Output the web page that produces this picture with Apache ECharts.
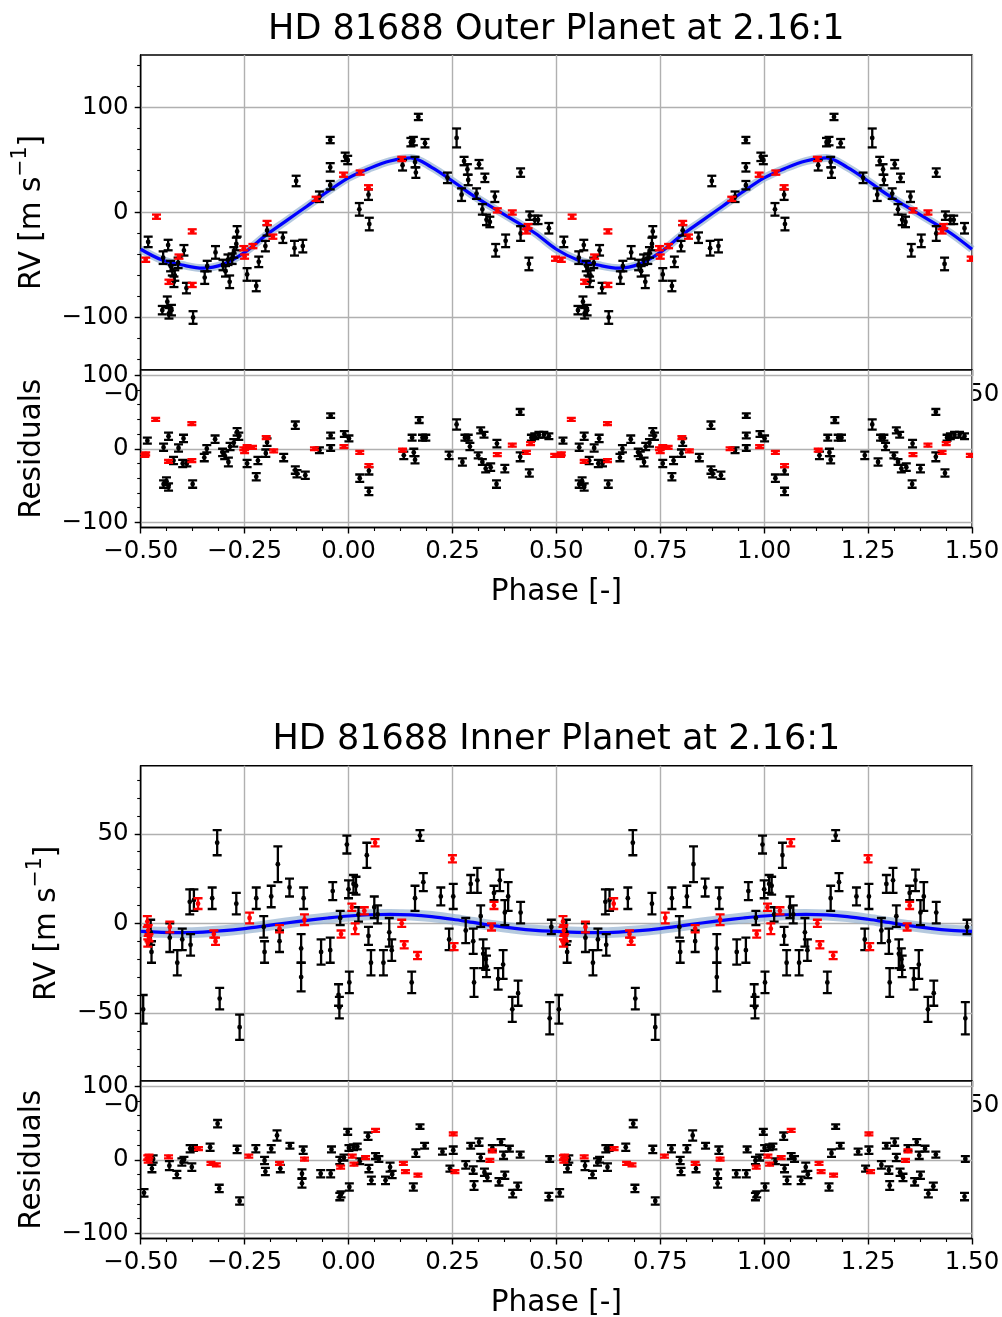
<!DOCTYPE html>
<html>
<head>
<meta charset="utf-8">
<script src="https://cdn.jsdelivr.net/npm/echarts@6/dist/echarts.min.js"></script>
<style>
  html, body { margin: 0; padding: 0; background: #ffffff; }
  #chart { width: 1002px; height: 1317px; }
</style>
</head>
<body>
<div id="chart"></div>
<script>
// ---------- data (phase, value, 1-sigma error) ----------
// Each measurement is folded onto phase [-0.5, 0.5] and plotted again at phase + 1.

// Outer planet: radial velocities
const outerRvBlack = [
  [-0.482, -28, 5], [-0.446, -43, 6], [-0.434, -31, 5], [-0.428, -51, 5], [-0.418, -60, 5],
  [-0.420, -66, 5], [-0.424, -55, 5], [-0.410, -48, 5], [-0.396, -36, 5], [-0.390, -72, 5],
  [-0.448, -93, 4], [-0.436, -85, 5], [-0.432, -96, 5], [-0.426, -93, 5], [-0.374, -100, 6],
  [-0.346, -62, 6], [-0.340, -51, 5], [-0.320, -38, 6], [-0.302, -50, 5], [-0.296, -56, 5],
  [-0.286, -66, 6], [-0.290, -45, 5], [-0.280, -44, 5], [-0.268, -18, 5], [-0.270, -30, 6],
  [-0.276, -38, 5], [-0.244, -59, 6], [-0.222, -70, 5], [-0.216, -47, 5], [-0.200, -32, 5],
  [-0.196, -17, 5], [-0.158, -24, 5], [-0.130, -34, 7], [-0.126, 30, 5], [-0.110, -32, 6],
  [-0.070, 15, 5], [-0.044, 69, 3], [-0.044, 43, 4], [-0.044, 26, 4], [-0.008, 53, 4],
  [-0.002, 50, 4], [0.026, 3, 6], [0.048, 17, 5], [0.050, -11, 6], [0.130, 45, 5],
  [0.150, 67, 4], [0.156, 68, 4], [0.160, 48, 5], [0.162, 38, 5], [0.168, 91, 3],
  [0.184, 66, 4], [0.238, 33, 5], [0.260, 71, 9], [0.272, 17, 6], [0.278, 49, 4],
  [0.286, 41, 5], [0.288, 31, 5], [0.308, 18, 5], [0.314, 46, 4], [0.322, 3, 5],
  [0.328, 33, 4], [0.332, -7, 5], [0.340, -9, 5], [0.352, 15, 5], [0.354, -36, 6],
  [0.378, -27, 6], [0.414, 38, 4], [0.414, -20, 7], [0.434, -49, 6], [0.436, -3, 4],
  [0.448, -7, 4], [0.456, -7, 4], [0.482, -15, 5]
];
const outerRvRed = [
  [-0.488, -45, 2], [-0.462, -4, 2], [-0.432, -66, 2], [-0.408, -42, 2], [-0.376, -18, 2],
  [-0.376, -69, 2], [-0.252, -34, 2], [-0.250, -42, 2], [-0.230, -32, 2], [-0.196, -10, 2],
  [-0.182, -23, 2], [-0.078, 13, 2], [-0.012, 36, 2], [0.028, 38, 2], [0.048, 24, 2],
  [0.128, 51, 2], [0.358, 2, 2], [0.394, 0, 2], [0.428, -18, 2], [0.432, -13, 2],
  [0.498, -44, 2]
];
// Outer planet: residuals
const outerResBlack = [
  [-0.484, 11, 4], [-0.445, 2, 5], [-0.433, 17, 5], [-0.445, -48, 5], [-0.433, -52, 5],
  [-0.438, -44, 5], [-0.421, -16, 5], [-0.409, 1, 5], [-0.397, 14, 5], [-0.399, -20, 5],
  [-0.389, -20, 4], [-0.375, -48, 5], [-0.347, -12, 5], [-0.341, 0, 5], [-0.321, 13, 5],
  [-0.303, -5, 5], [-0.298, -9, 5], [-0.289, -18, 6], [-0.285, 3, 5], [-0.276, 8, 5],
  [-0.268, 23, 5], [-0.264, 17, 5], [-0.244, -20, 5], [-0.222, -38, 5], [-0.218, -16, 5],
  [-0.196, 9, 5], [-0.199, -6, 5], [-0.156, -12, 5], [-0.128, 32, 5], [-0.128, -29, 5],
  [-0.124, -34, 5], [-0.104, -36, 5], [-0.070, -2, 4], [-0.043, 45, 3], [-0.043, 18, 4],
  [-0.043, 1, 4], [-0.010, 20, 4], [0.001, 14, 4], [0.027, -40, 5], [0.049, -30, 5],
  [0.049, -58, 5], [0.133, -9, 5], [0.153, 15, 4], [0.157, -5, 5], [0.160, -15, 5],
  [0.170, 39, 4], [0.178, 15, 4], [0.186, 15, 4], [0.242, -9, 5], [0.260, 33, 7],
  [0.274, -18, 5], [0.280, 15, 4], [0.288, 15, 4], [0.292, 3, 5], [0.312, -9, 4],
  [0.318, 25, 4], [0.326, 19, 4], [0.322, -18, 4], [0.330, -27, 5], [0.342, -25, 5],
  [0.357, 7, 5], [0.356, -48, 5], [0.376, -27, 5], [0.413, 50, 4], [0.413, -11, 6],
  [0.435, -33, 5], [0.440, 15, 4], [0.448, 17, 4], [0.458, 19, 4], [0.470, 19, 4],
  [0.482, 17, 4]
];
const outerResRed = [
  [-0.490, -9, 2], [-0.488, -7, 2], [-0.464, 40, 2], [-0.433, -17, 2], [-0.377, 34, 2],
  [-0.377, -16, 2], [-0.252, 0, 2], [-0.250, -4, 2], [-0.244, 3, 2], [-0.231, 2, 2],
  [-0.198, 15, 2], [-0.180, -3, 2], [-0.082, 0, 2], [-0.011, 3, 2], [0.027, -5, 2],
  [0.049, -23, 2], [0.130, -2, 2], [0.358, -8, 2], [0.394, 5, 2], [0.428, -5, 2],
  [0.438, 7, 2], [0.496, -9, 2]
];

// Inner planet: radial velocities
const innerRvBlack = [
  [-0.494, -48, 8], [-0.476, -5, 7], [-0.474, -16, 6], [-0.430, -8, 8], [-0.412, -22, 7],
  [-0.400, -9, 6], [-0.380, -12, 6], [-0.382, 12, 7], [-0.372, 13, 6], [-0.328, 14, 6],
  [-0.316, 45, 7], [-0.310, -42, 6], [-0.270, 11, 6], [-0.262, -58, 7], [-0.222, 14, 6],
  [-0.204, -2, 6], [-0.202, -16, 6], [-0.186, 15, 6], [-0.170, 33, 10], [-0.166, -10, 6],
  [-0.142, 20, 5], [-0.114, -14, 8], [-0.114, -30, 8], [-0.108, 14, 6], [-0.066, -16, 7],
  [-0.044, -15, 7], [-0.038, 18, 5], [-0.024, -40, 6], [-0.022, -47, 6], [-0.020, 3, 4],
  [-0.004, 44, 5], [0.000, 19, 5], [0.002, -33, 6], [0.012, 22, 5], [0.018, 21, 5],
  [0.024, 5, 4], [0.044, 38, 7], [0.048, -7, 5], [0.054, -22, 7], [0.062, 9, 6],
  [0.070, 5, 5], [0.084, -22, 7], [0.098, -5, 8], [0.104, -15, 6], [0.152, -33, 6],
  [0.160, 14, 7], [0.172, 49, 3], [0.180, 23, 5], [0.222, 15, 5], [0.242, -9, 6],
  [0.252, 15, 7], [0.282, -4, 7], [0.294, 22, 5], [0.302, -33, 8], [0.300, -10, 7],
  [0.310, 24, 7], [0.318, 4, 6], [0.324, -17, 8], [0.330, -20, 6], [0.332, -24, 6],
  [0.350, 17, 4], [0.360, -31, 6], [0.364, 24, 6], [0.372, -23, 8], [0.376, 6, 7],
  [0.384, 15, 8], [0.394, -48, 7], [0.408, -39, 7], [0.414, 6, 6], [0.484, -53, 9],
  [0.488, -2, 4]
];
const innerRvRed = [
  [-0.484, 1, 3], [-0.482, -4, 3], [-0.480, -8, 2], [-0.483, -11, 2], [-0.430, -2, 3],
  [-0.362, 11, 3], [-0.324, -6, 2], [-0.320, -10, 2], [-0.238, 3, 3], [-0.166, -3, 2],
  [-0.106, 2, 3], [-0.018, -6, 2], [0.008, 9, 2], [0.016, -3, 3], [0.038, 7, 2],
  [0.064, 45, 2], [0.128, 0, 2], [0.134, -12, 2], [0.166, -18, 2], [0.250, 36, 2],
  [0.254, -13, 2], [0.344, -2, 2], [0.350, 10, 2]
];
// Inner planet: residuals
const innerResBlack = [
  [-0.492, -45, 5], [-0.473, -12, 5], [-0.470, 1, 5], [-0.431, -8, 6], [-0.413, -20, 5],
  [-0.401, -3, 5], [-0.396, 0, 4], [-0.381, 15, 5], [-0.377, -10, 5], [-0.373, 16, 4],
  [-0.333, 17, 5], [-0.315, 49, 5], [-0.311, -39, 5], [-0.268, 14, 5], [-0.262, -56, 5],
  [-0.223, 15, 5], [-0.202, -1, 5], [-0.200, -16, 5], [-0.186, 15, 5], [-0.172, 33, 7],
  [-0.164, -12, 5], [-0.141, 19, 4], [-0.109, 13, 5], [-0.112, -19, 6], [-0.112, -32, 6],
  [-0.067, -19, 5], [-0.043, -19, 5], [-0.041, 14, 4], [-0.021, -1, 5], [-0.021, -50, 5],
  [-0.018, -47, 4], [-0.011, 3, 4], [-0.002, 38, 4], [0.002, -37, 5], [0.001, 16, 4],
  [0.012, 17, 4], [0.021, 18, 4], [0.027, -2, 4], [0.047, 32, 5], [0.049, -12, 5],
  [0.055, -28, 5], [0.065, 5, 4], [0.073, 1, 4], [0.089, -28, 5], [0.100, -10, 6],
  [0.105, -20, 5], [0.156, -37, 5], [0.162, 9, 5], [0.172, 45, 3], [0.183, 19, 4],
  [0.226, 11, 4], [0.244, -12, 4], [0.252, 13, 5], [0.282, -7, 5], [0.294, 19, 4],
  [0.302, -35, 6], [0.300, -14, 5], [0.314, 24, 5], [0.318, 3, 5], [0.327, -17, 5],
  [0.334, -24, 5], [0.346, 16, 4], [0.362, -30, 5], [0.367, 24, 4], [0.373, 6, 5],
  [0.376, -21, 5], [0.387, 15, 4], [0.395, -46, 5], [0.407, -36, 5], [0.413, 7, 4],
  [0.482, -50, 5], [0.484, 1, 4]
];
const innerResRed = [
  [-0.483, 3, 3], [-0.480, 5, 2], [-0.482, -2, 2], [-0.433, 4, 2], [-0.361, 15, 2],
  [-0.331, -5, 2], [-0.318, -7, 2], [-0.240, 5, 2], [-0.166, -5, 2], [-0.106, 1, 2],
  [-0.019, -10, 2], [0.009, 5, 2], [0.013, -6, 2], [0.041, 3, 2], [0.065, 40, 2],
  [0.132, -5, 2], [0.137, -16, 2], [0.167, -21, 2], [0.252, 35, 2], [0.256, -16, 2],
  [0.340, -1, 2], [0.346, 12, 2]
];

// Best-fit Keplerian curves sampled over one orbit
const modelPhase = [-0.50, -0.45, -0.40, -0.35, -0.30, -0.25, -0.20, -0.15, -0.10, -0.05,
                    0.00, 0.05, 0.10, 0.15, 0.20, 0.25, 0.30, 0.35, 0.40, 0.45, 0.50];
const outerModel = [-35, -45, -50, -53, -49, -38, -22, -8, 6, 20,
                    33, 42, 49, 52, 43, 30, 16, 4, -8, -20, -35];
const innerModel = [-4.5, -5.0, -5.2, -4.9, -4.1, -2.9, -1.4, 0.2, 1.7, 3.0,
                    4.1, 4.8, 5.0, 4.7, 3.8, 2.3, 0.5, -1.3, -2.8, -3.9, -4.5];

// Axis ticks
const phaseTicks = { min: -0.5, max: 1.5, step: 0.25 };
const outerRvMajor = [-100, 0, 100];
const outerRvMinor = [-140, -120, -100, -80, -60, -40, -20, 0, 20, 40, 60, 80, 100, 120, 140];
const innerRvMajor = [-50, 0, 50];
const innerRvMinor = [-80, -70, -60, -50, -40, -30, -20, -10, 0, 10, 20, 30, 40, 50, 60, 70, 80];
const resMajor = [-100, 0, 100];
const resMinor = [-100, -80, -60, -40, -20, 0, 20, 40, 60, 80, 100];

const titles = ['HD 81688 Outer Planet at 2.16:1', 'HD 81688 Inner Planet at 2.16:1'];

// ---------- helpers ----------
const FONT = 'DejaVu Sans';
const MINUS = '\u2212';
const TICK_FS = 24.5, NAME_FS = 29.5, SUP_FS = 20.5, TITLE_FS = 35;
const fmtPhase = v => (v < 0 ? MINUS : '') + Math.abs(v).toFixed(2);
const fmtInt = v => (v < 0 ? MINUS : '') + Math.abs(Math.round(v));

const twoCycles = pts => pts.concat(pts.map(p => [p[0] + 1, p[1], p[2]]));
const modelCurve = vals => {
  const first = modelPhase.map((p, i) => [p, vals[i]]);
  const second = modelPhase.slice(1).map((p, i) => [p + 1, vals[i + 1]]);
  return first.concat(second);
};

function errorBarRenderer(color) {
  return function (params, api) {
    const x = api.value(0), y = api.value(1), e = api.value(2);
    const c = api.coord([x, y]);
    const top = api.coord([x, y + e])[1];
    const bot = api.coord([x, y - e])[1];
    const hw = 4.5;
    const st = { stroke: color, lineWidth: 2.3, fill: null };
    return {
      type: 'group',
      children: [
        { type: 'line', shape: { x1: c[0], y1: top, x2: c[0], y2: bot }, style: st },
        { type: 'line', shape: { x1: c[0] - hw, y1: top, x2: c[0] + hw, y2: top }, style: st },
        { type: 'line', shape: { x1: c[0] - hw, y1: bot, x2: c[0] + hw, y2: bot }, style: st },
        { type: 'circle', shape: { cx: c[0], cy: c[1], r: 2.4 }, style: { fill: color } }
      ]
    };
  };
}

const AX = { color: '#000000', width: 1.4 };
const GRIDLINE = { color: '#b0b0b0', width: 1.4 };
const NAME_STYLE = {
  fontSize: NAME_FS, color: '#000', fontFamily: FONT,
  rich: {
    n: { fontSize: NAME_FS, color: '#000', fontFamily: FONT, lineHeight: 38, verticalAlign: 'bottom' },
    s: { fontSize: SUP_FS, color: '#000', fontFamily: FONT, lineHeight: 24, verticalAlign: 'top' }
  }
};

function xAxisFor(gi, withName, z) {
  return {
    type: 'value', gridIndex: gi, z: z,
    min: phaseTicks.min, max: phaseTicks.max, interval: phaseTicks.step,
    axisLine: { show: true, onZero: false, lineStyle: AX },
    axisTick: { show: true, length: 6, lineStyle: AX },
    minorTick: { show: true, splitNumber: 4, length: 3.5, lineStyle: { color: '#000', width: 1.1 } },
    splitLine: { show: true, lineStyle: GRIDLINE },
    minorSplitLine: { show: false },
    axisLabel: { show: true, margin: 12, fontSize: TICK_FS, color: '#000', fontFamily: FONT,
                 formatter: fmtPhase, showMinLabel: true, showMaxLabel: true },
    name: withName ? 'Phase [-]' : '',
    nameLocation: 'middle', nameGap: 50,
    nameTextStyle: { fontSize: NAME_FS, color: '#000', fontFamily: FONT }
  };
}
function yMainFor(gi, min, max, majors, name, gap, z) {
  return {
    type: 'value', gridIndex: gi, position: 'left', z: z, min: min, max: max,
    axisLine: { show: true, onZero: false, lineStyle: AX },
    axisTick: { show: true, length: 6, customValues: majors, lineStyle: AX },
    axisLabel: { show: true, customValues: majors, margin: 12, fontSize: TICK_FS, color: '#000',
                 fontFamily: FONT, formatter: fmtInt },
    splitLine: { show: true, lineStyle: GRIDLINE },
    name: name, nameLocation: 'middle', nameGap: gap, nameRotate: 90,
    nameTextStyle: NAME_STYLE
  };
}
function yMinorFor(gi, min, max, minors, z) {
  return {
    type: 'value', gridIndex: gi, position: 'left', z: z, min: min, max: max,
    axisLine: { show: false, onZero: false },
    axisTick: { show: true, length: 3.5, customValues: minors, lineStyle: { color: '#000', width: 1.1 } },
    axisLabel: { show: false },
    splitLine: { show: false }
  };
}

function modelSeries(gi, vals, bandWidth, z) {
  const data = modelCurve(vals);
  return [
    { type: 'line', xAxisIndex: gi, yAxisIndex: gi, data: data, smooth: 0.35, symbol: 'none',
      lineStyle: { color: 'rgba(150,178,208,0.7)', width: bandWidth }, z: z, silent: true },
    { type: 'line', xAxisIndex: gi, yAxisIndex: gi, data: data, smooth: 0.35, symbol: 'none',
      lineStyle: { color: '#0000ff', width: 3.2 }, z: z + 0.1, silent: true }
  ];
}
function errSeries(gi, pts, color, z) {
  return {
    type: 'custom', xAxisIndex: gi, yAxisIndex: gi, data: twoCycles(pts),
    encode: { x: 0, y: 1 }, renderItem: errorBarRenderer(color), clip: true, z: z, silent: true
  };
}

// ---------- layout ----------
const PL = 140.7, PW = 831.3;
const gridBase = { show: true, borderColor: '#000', borderWidth: 1.4, backgroundColor: '#ffffff',
                   containLabel: false, outerBoundsMode: 'none' };
const grids = [
  Object.assign({}, gridBase, { left: PL, top: 55, width: PW, height: 315, z: 0 }),
  Object.assign({}, gridBase, { left: PL, top: 370, width: PW, height: 157.5, z: 5 }),
  Object.assign({}, gridBase, { left: PL, top: 765.7, width: PW, height: 315.3, z: 0 }),
  Object.assign({}, gridBase, { left: PL, top: 1081, width: PW, height: 157.5, z: 5 })
];

const RV_NAME = '{n|RV [m s}{s|' + MINUS + '1}{n|]}';
const RES_NAME = '{n|Residuals}';

const option = {
  animation: false,
  backgroundColor: '#ffffff',
  textStyle: { fontFamily: FONT },
  title: [
    { text: titles[0], left: PL + PW / 2, top: 12.5, textAlign: 'center', padding: 0,
      textStyle: { fontSize: TITLE_FS, fontWeight: 'normal', color: '#000', fontFamily: FONT } },
    { text: titles[1], left: PL + PW / 2, top: 722.5, textAlign: 'center', padding: 0,
      textStyle: { fontSize: TITLE_FS, fontWeight: 'normal', color: '#000', fontFamily: FONT } }
  ],
  grid: grids,
  xAxis: [
    xAxisFor(0, false, 0),
    xAxisFor(1, true, 6),
    xAxisFor(2, false, 0),
    xAxisFor(3, true, 6)
  ],
  yAxis: [
    yMainFor(0, -150, 150, outerRvMajor, RV_NAME, 93, 0),
    yMainFor(1, -107, 107, resMajor, RES_NAME, 93, 6),
    yMainFor(2, -88, 88, innerRvMajor, RV_NAME, 78, 0),
    yMainFor(3, -107, 107, resMajor, RES_NAME, 93, 6),
    yMinorFor(0, -150, 150, outerRvMinor, 0),
    yMinorFor(1, -107, 107, resMinor, 6),
    yMinorFor(2, -88, 88, innerRvMinor, 0),
    yMinorFor(3, -107, 107, resMinor, 6)
  ],
  series: [].concat(
    modelSeries(0, outerModel, 8, 2),
    [errSeries(0, outerRvBlack, '#000000', 3), errSeries(0, outerRvRed, '#ff0000', 4)],
    [errSeries(1, outerResBlack, '#000000', 7), errSeries(1, outerResRed, '#ff0000', 8)],
    modelSeries(2, innerModel, 11, 2),
    [errSeries(2, innerRvBlack, '#000000', 3), errSeries(2, innerRvRed, '#ff0000', 4)],
    [errSeries(3, innerResBlack, '#000000', 7), errSeries(3, innerResRed, '#ff0000', 8)]
  )
};

const chart = echarts.init(document.getElementById('chart'), null, { renderer: 'canvas' });
chart.setOption(option);
</script>
</body>
</html>
